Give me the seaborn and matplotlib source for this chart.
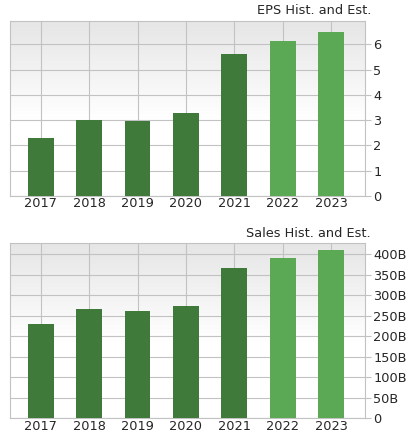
import numpy as np
import pandas as pd
import seaborn as sns
from matplotlib import pyplot as plt
from matplotlib.ticker import FuncFormatter, MultipleLocator

years = ['2017', '2018', '2019', '2020', '2021', '2022', '2023']
eps = [2.31, 3.00, 2.98, 3.28, 5.63, 6.12, 6.50]
sales = [229, 265, 260, 274, 365, 391, 409]  # billions
kind = ['hist', 'hist', 'hist', 'hist', 'hist', 'est', 'est']

DARK = '#3f7a3b'
LIGHT = '#5ca955'
GRID = '#c2c2c2'

W, H = 412, 437
sns.set_style('white')
plt.rcParams['font.family'] = ['DejaVu Sans']
fig = plt.figure(figsize=(W / 100, H / 100), dpi=100)


def panel(top_px, bot_px, values, ymax, step, fmt, title):
  ax = fig.add_axes([10 / W, 1 - bot_px / H, 355 / W, (bot_px - top_px) / H])
  df = pd.DataFrame({'year': years, 'value': values, 'kind': kind})
  colors = [DARK if k == 'hist' else LIGHT for k in kind]
  sns.barplot(df, x='year', y='value', hue='year', palette=colors,
              width=0.53, saturation=1, legend=False, ax=ax, zorder=3,
              linewidth=0, edgecolor='none')

  # grey-to-white gradient behind everything
  grad = np.linspace(0, 1, 256).reshape(-1, 1)
  shade = np.clip(1 - grad * 1.8, 0, 1)
  img = np.ones((256, 1, 3)) * (1 - 0.1 * shade)[..., None]
  ax.imshow(img, extent=[0, 1, 0, 1], transform=ax.transAxes,
            aspect='auto', zorder=0, origin='upper')

  ax.set_xlim(-0.635, 6.70)
  ax.set_ylim(0, ymax)
  ax.yaxis.set_major_locator(MultipleLocator(step))
  ax.yaxis.set_major_formatter(FuncFormatter(fmt))
  ax.yaxis.tick_right()
  ax.grid(True, color=GRID, linewidth=0.8, zorder=1)
  ax.set_axisbelow(False)
  for line in ax.get_xgridlines() + ax.get_ygridlines():
    line.set_zorder(1)
  ax.tick_params(axis='y', direction='out', length=4, width=0.8, color=GRID,
                 labelsize=9.3, pad=2, right=True, left=False)
  ax.tick_params(axis='x', length=0, labelsize=9.3, pad=1)
  for s in ax.spines.values():
    s.set_color(GRID)
    s.set_linewidth(0.8)
  ax.set_xlabel('')
  ax.set_ylabel('')
  fig.text(371 / W, 1 - (top_px - 10) / H, title, ha='right', va='center',
           fontsize=9.3)
  return ax


panel(21, 196, eps, 6.92, 1, lambda v, p: f'{v:g}', 'EPS Hist. and Est.')
panel(243.3, 418.3, sales, 426, 50,
      lambda v, p: '0' if v == 0 else f'{v:g}B', 'Sales Hist. and Est.')

fig.savefig('out.png', dpi=100)
